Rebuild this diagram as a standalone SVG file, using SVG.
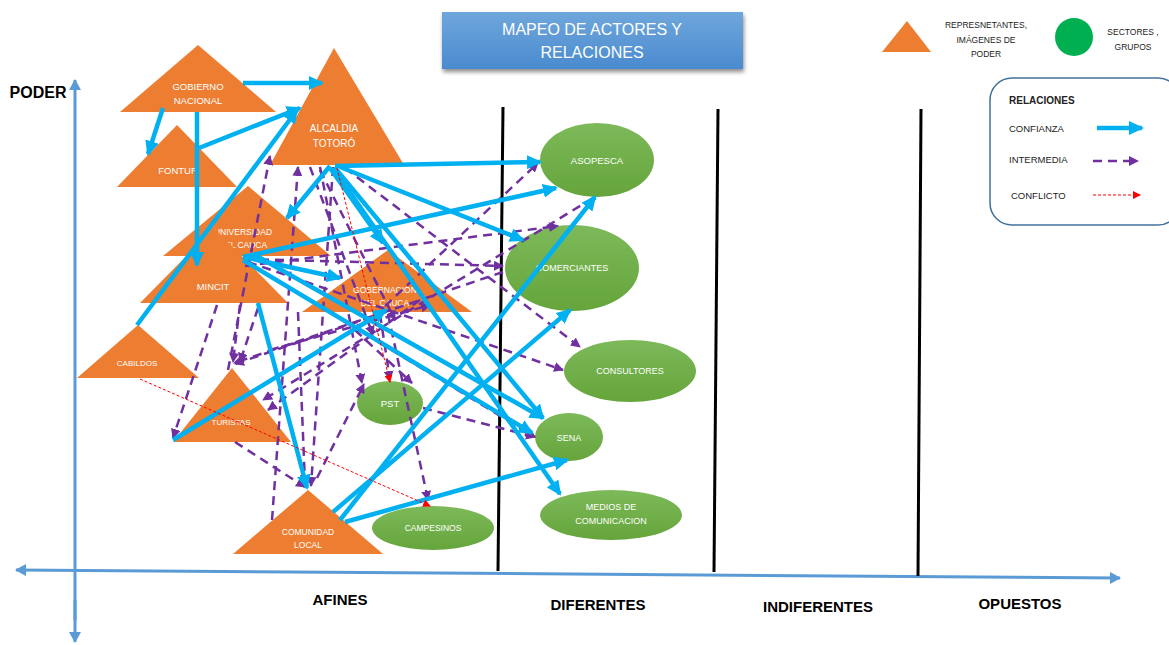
<svg xmlns="http://www.w3.org/2000/svg" width="1169" height="645" viewBox="0 0 1169 645">
<defs>
<linearGradient id="gGreen" x1="0" y1="0" x2="0" y2="1"><stop offset="0" stop-color="#7DB95A"/><stop offset="1" stop-color="#65A53B"/></linearGradient>
<linearGradient id="gTitle" x1="0" y1="0" x2="0" y2="1"><stop offset="0" stop-color="#6FA7DB"/><stop offset="1" stop-color="#4A8ACF"/></linearGradient>
<filter id="sh" x="-10%" y="-20%" width="120%" height="150%"><feGaussianBlur in="SourceAlpha" stdDeviation="2"/><feOffset dx="1" dy="3"/><feComponentTransfer><feFuncA type="linear" slope="0.45"/></feComponentTransfer><feMerge><feMergeNode/><feMergeNode in="SourceGraphic"/></feMerge></filter>
<marker id="mB" markerUnits="userSpaceOnUse" markerWidth="16" markerHeight="14" refX="13" refY="7" orient="auto"><path d="M0,0 L15,7 L0,14 z" fill="#00B0F0"/></marker>
<marker id="mP" markerUnits="userSpaceOnUse" markerWidth="10" markerHeight="10" refX="9" refY="5" orient="auto"><path d="M0,0 L10,5 L0,10 z" fill="#7030A0"/></marker>
<marker id="mR" markerUnits="userSpaceOnUse" markerWidth="8" markerHeight="8" refX="7" refY="4" orient="auto"><path d="M0,0 L8,4 L0,8 z" fill="#FF0000"/></marker>
<marker id="mA" markerUnits="userSpaceOnUse" markerWidth="12" markerHeight="12" refX="10" refY="6" orient="auto-start-reverse"><path d="M0,0 L11,6 L0,12 z" fill="#5B9BD5"/></marker>
</defs>
<style>
.tri{fill:#ED7D31}
.ell{fill:url(#gGreen)}
.nt{font-family:"Liberation Sans",Arial,sans-serif;fill:#FFFFFF;text-anchor:middle}
.lt{font-family:"Liberation Sans",Arial,sans-serif;fill:#222;text-anchor:middle}
.ax{font-family:"Liberation Sans",Arial,sans-serif;font-weight:bold;fill:#000;font-size:15px;text-anchor:middle}
.b{stroke:#00B0F0;stroke-width:4.5;fill:none;marker-end:url(#mB)}
.p{stroke:#7030A0;stroke-width:2.5;fill:none;stroke-dasharray:9 6;marker-end:url(#mP)}
.r{stroke:#FF0000;stroke-width:1;fill:none;stroke-dasharray:3 2;marker-end:url(#mR)}
.vl{stroke:#000;stroke-width:3}
</style>
<rect width="1169" height="645" fill="#FFFFFF"/>

<g id="axes">
<line x1="75" y1="620" x2="75" y2="80" stroke="#5B9BD5" stroke-width="3" marker-end="url(#mA)"/>
<line x1="75" y1="600" x2="75" y2="642" stroke="#5B9BD5" stroke-width="3" marker-end="url(#mA)"/>
<line x1="16" y1="570" x2="1120" y2="578" stroke="#5B9BD5" stroke-width="3" marker-start="url(#mA)" marker-end="url(#mA)"/>
<text x="38" y="98" class="ax" style="font-size:16px">PODER</text>
<text x="340" y="605" class="ax">AFINES</text>
<text x="598" y="610" class="ax">DIFERENTES</text>
<text x="818" y="612" class="ax">INDIFERENTES</text>
<text x="1020" y="609" class="ax">OPUESTOS</text>
<line class="vl" x1="503" y1="107" x2="498" y2="571"/>
<line class="vl" x1="718" y1="109" x2="714" y2="572"/>
<line class="vl" x1="921" y1="109" x2="918" y2="576"/>
</g>

<g id="title">
<rect x="442" y="12" width="301" height="57" fill="url(#gTitle)" filter="url(#sh)"/>
<text x="592" y="35" class="nt" style="font-size:16px">MAPEO DE ACTORES Y</text>
<text x="592" y="58" class="nt" style="font-size:16px">RELACIONES</text>
</g>

<g id="legend">
<polygon class="tri" points="907,21 931,52 882,52"/>
<text x="986" y="28" class="lt" style="font-size:8.5px">REPRESNETANTES,</text>
<text x="986" y="43" class="lt" style="font-size:8.5px">IMÁGENES DE</text>
<text x="986" y="57" class="lt" style="font-size:8.5px">PODER</text>
<circle cx="1074" cy="37" r="19" fill="#00B050"/>
<text x="1133" y="35" class="lt" style="font-size:8.5px">SECTORES ,</text>
<text x="1133" y="50" class="lt" style="font-size:8.5px">GRUPOS</text>
<rect x="990" y="78" width="190" height="147" rx="22" fill="#FFFFFF" stroke="#41719C" stroke-width="1.5"/>
<text x="1009" y="104" class="lt" style="font-size:10px;font-weight:bold;text-anchor:start">RELACIONES</text>
<text x="1009" y="132" class="lt" style="font-size:9.5px;text-anchor:start">CONFIANZA</text>
<text x="1009" y="163" class="lt" style="font-size:9.5px;text-anchor:start">INTERMEDIA</text>
<text x="1011" y="199" class="lt" style="font-size:9.5px;text-anchor:start">CONFLICTO</text>
<line class="b" x1="1097" y1="128" x2="1142" y2="128"/>
<line class="p" x1="1093" y1="161" x2="1138" y2="161"/>
<line class="r" x1="1093" y1="195" x2="1140" y2="195"/>
</g>

<g id="n-gobierno"><polygon class="tri" points="198,45 276,112 120,112"/><text x="198" y="90" class="nt" style="font-size:9.5px">GOBIERNO</text><text x="198" y="104" class="nt" style="font-size:9.5px">NACIONAL</text></g>
<g id="n-alcaldia"><polygon class="tri" points="334,48 404,165 270,165"/><text x="334" y="132" class="nt" style="font-size:10px">ALCALDIA</text><text x="334" y="147" class="nt" style="font-size:10px">TOTORÓ</text></g>
<g id="n-fontur"><polygon class="tri" points="177,125 237,187 117,187"/><text x="178" y="174" class="nt" style="font-size:9.5px">FONTUR</text></g>
<g id="n-universidad"><polygon class="tri" points="248,186 331,256 163,256"/><text x="243" y="235" class="nt" style="font-size:8.5px">UNIVERSIDAD</text><text x="243" y="248" class="nt" style="font-size:8.5px">DEL CAUCA</text></g>
<g id="n-mincit"><polygon class="tri" points="214,228 288,303 140,303"/><text x="213" y="290" class="nt" style="font-size:9.5px">MINCIT</text></g>
<g id="n-gobernacion"><polygon class="tri" points="388,250 472,312 302,312"/><text x="385" y="293" class="nt" style="font-size:8.5px">GOBERNACION</text><text x="385" y="306" class="nt" style="font-size:8.5px">DEL CAUCA</text></g>
<g id="n-cabildos"><polygon class="tri" points="138,325 199,378 77,378"/><text x="137" y="366" class="nt" style="font-size:8px">CABILDOS</text></g>
<g id="n-turistas"><polygon class="tri" points="232,368 291,442 173,442"/><text x="231" y="425" class="nt" style="font-size:8px">TURISTAS</text></g>
<g id="n-comunidad"><polygon class="tri" points="308,490 383,554 233,554"/><text x="308" y="535" class="nt" style="font-size:8.5px">COMUNIDAD</text><text x="308" y="548" class="nt" style="font-size:8.5px">LOCAL</text></g>

<g id="n-asopesca"><ellipse class="ell" cx="597" cy="160" rx="57" ry="37"/><text x="597" y="164" class="nt" style="font-size:9.5px">ASOPESCA</text></g>
<g id="n-comerciantes"><ellipse class="ell" cx="572" cy="268" rx="67" ry="43"/><text x="572" y="271" class="nt" style="font-size:9px">COMERCIANTES</text></g>
<g id="n-consultores"><ellipse class="ell" cx="630" cy="371" rx="66" ry="31"/><text x="630" y="374" class="nt" style="font-size:9px">CONSULTORES</text></g>
<g id="n-pst"><ellipse class="ell" cx="390" cy="403" rx="33" ry="22"/><text x="390" y="407" class="nt" style="font-size:9.5px">PST</text></g>
<g id="n-sena"><ellipse class="ell" cx="569" cy="437" rx="34" ry="24"/><text x="569" y="441" class="nt" style="font-size:9px">SENA</text></g>
<g id="n-medios"><ellipse class="ell" cx="611" cy="515" rx="71" ry="25"/><text x="611" y="510" class="nt" style="font-size:9px">MEDIOS DE</text><text x="611" y="524" class="nt" style="font-size:9px">COMUNICACION</text></g>
<g id="n-campesinos"><ellipse class="ell" cx="433" cy="528" rx="61" ry="22"/><text x="433" y="531" class="nt" style="font-size:8.5px">CAMPESINOS</text></g>

<g id="connectors">
<!-- intermedia (dashed purple) -->
<line class="p" x1="228" y1="370" x2="270" y2="156"/>
<line class="p" x1="272" y1="520" x2="298" y2="167"/>
<line class="p" x1="310" y1="167" x2="373" y2="335"/>
<line class="p" x1="333" y1="167" x2="311" y2="486"/>
<line class="p" x1="345" y1="168" x2="580" y2="347"/>
<line class="p" x1="320" y1="167" x2="362" y2="383"/>
<line class="p" x1="245" y1="259" x2="503" y2="266"/>
<line class="p" x1="248" y1="262" x2="563" y2="370"/>
<line class="p" x1="250" y1="264" x2="535" y2="437"/>
<line class="p" x1="423" y1="408" x2="535" y2="437"/>
<line class="p" x1="503" y1="272" x2="234" y2="363"/>
<line class="p" x1="593" y1="198" x2="263" y2="400"/>
<line class="p" x1="386" y1="312" x2="235" y2="364"/>
<line class="p" x1="385" y1="306" x2="538" y2="163"/>
<line class="p" x1="217" y1="305" x2="173" y2="438"/>
<line class="p" x1="240" y1="305" x2="233" y2="362"/>
<line class="p" x1="258" y1="308" x2="240" y2="362"/>
<line class="p" x1="235" y1="442" x2="305" y2="487"/>
<line class="p" x1="317" y1="478" x2="364" y2="384"/>
<line class="p" x1="388" y1="314" x2="428" y2="500"/>
<line class="p" x1="380" y1="314" x2="390" y2="380"/>
<line class="p" x1="355" y1="330" x2="412" y2="383"/>
<line class="p" x1="245" y1="266" x2="558" y2="226"/>
<line class="p" x1="298" y1="312" x2="305" y2="484"/>
<line class="p" x1="270" y1="350" x2="430" y2="305"/>
<line class="p" x1="420" y1="300" x2="268" y2="410"/>
<line class="p" x1="320" y1="170" x2="395" y2="320"/>
<!-- confianza (blue) -->
<line class="b" x1="243" y1="83" x2="322" y2="83"/>
<line class="b" x1="163" y1="108" x2="148" y2="154"/>
<line class="b" x1="197" y1="112" x2="197" y2="265"/>
<line class="b" x1="199" y1="148" x2="300" y2="108"/>
<line class="b" x1="137" y1="325" x2="297" y2="110"/>
<line class="b" x1="173" y1="440" x2="386" y2="310"/>
<line class="b" x1="258" y1="303" x2="307" y2="488"/>
<line class="b" x1="330" y1="166" x2="287" y2="218"/>
<line class="b" x1="335" y1="166" x2="540" y2="162"/>
<line class="b" x1="340" y1="167" x2="523" y2="240"/>
<line class="b" x1="330" y1="168" x2="383" y2="243"/>
<line class="b" x1="335" y1="168" x2="543" y2="418"/>
<line class="b" x1="333" y1="168" x2="560" y2="494"/>
<line class="b" x1="243" y1="257" x2="556" y2="188"/>
<line class="b" x1="243" y1="257" x2="340" y2="278"/>
<line class="b" x1="243" y1="260" x2="532" y2="433"/>
<line class="b" x1="255" y1="255" x2="543" y2="418"/>
<line class="b" x1="340" y1="520" x2="595" y2="197"/>
<line class="b" x1="333" y1="512" x2="570" y2="310"/>
<line class="b" x1="345" y1="522" x2="567" y2="460"/>
<!-- conflicto (red dotted) -->
<line class="r" x1="337" y1="168" x2="390" y2="382"/>
<line class="r" x1="140" y1="379" x2="430" y2="506"/>
</g>
</svg>
